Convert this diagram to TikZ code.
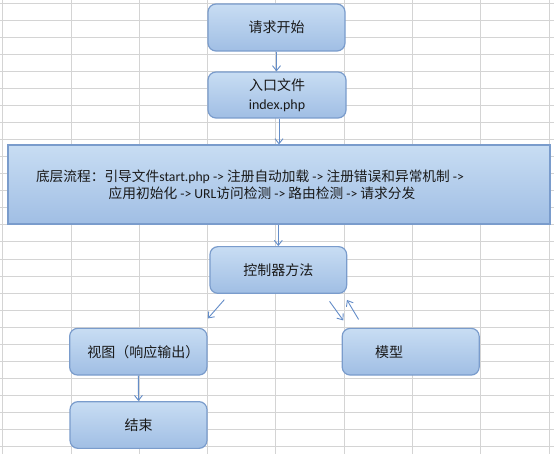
\documentclass[tikz,border=0pt]{standalone}
\usepackage{fontspec}
\setmainfont{Carlito}
\newfontfamily\cjk{Noto Sans CJK SC}
\usetikzlibrary{arrows.meta,calc}
\definecolor{gridc}{RGB}{212,212,212}
\definecolor{boxtop}{RGB}{200,221,243}
\definecolor{boxbot}{RGB}{160,190,228}
\definecolor{boxline}{RGB}{122,156,204}
\definecolor{arrowc}{RGB}{100,141,200}
\definecolor{txt}{RGB}{25,25,25}
\tikzset{
  flowbox/.style={draw=boxline, line width=1.2pt, top color=boxtop, bottom color=boxbot,
    rounded corners=8pt, inner sep=0pt, text=txt, align=center,
    font=\fontsize{14}{19}\selectfont},
  bigbox/.style={draw=boxline, line width=1.2pt, top color=boxtop, bottom color=boxbot,
    inner sep=0pt, text=txt, align=center, font=\fontsize{13.7}{17}\selectfont},
  conn/.style={draw=arrowc, line width=0.9pt, -{Straight Barb[length=5pt,width=8pt]}},
}
\begin{document}
\begin{tikzpicture}[x=1pt,y=-1pt]
\useasboundingbox (0,0) rectangle (554,454);
\fill[white] (0,0) rectangle (554,454);
% spreadsheet grid
\foreach \i in {0,...,8} {
  \draw[gridc, line width=1pt] ({2.7+68.3*\i},0) -- ({2.7+68.3*\i},454);
}
\foreach \j in {0,...,26} {
  \draw[gridc, line width=1pt] (0,{3.3+17.05*\j}) -- (554,{3.3+17.05*\j});
}
% nodes
\node[flowbox, minimum width=137pt, minimum height=47pt] (start) at (276.5,27.5) {\cjk 请求开始};
\node[flowbox, minimum width=138pt, minimum height=46pt] (entry) at (277,95) {\cjk 入口文件\\index.php};
\node[bigbox, minimum width=542pt, minimum height=79pt] (base) at (279,184.5)
  {{\cjk 底层流程：引导文件}start.php -> {\cjk 注册自动加载} -> {\cjk 注册错误和异常机制} ->\hspace*{58pt}\\
   {\cjk 应用初始化} -> URL{\cjk 访问检测} -> {\cjk 路由检测} -> {\cjk 请求分发}\hspace*{34pt}};
\node[flowbox, minimum width=136.7pt, minimum height=46.7pt] (ctrl) at (278.3,270) {\cjk 控制器方法};
\node[flowbox, minimum width=137pt, minimum height=46.7pt] (model) at (410.7,351.7) {\cjk 模型\hspace*{43pt}};
\node[flowbox, minimum width=137.3pt, minimum height=46.7pt] (view) at (138.3,351.7) {\hspace*{10pt}\cjk 视图（响应输出）};
\node[flowbox, minimum width=137pt, minimum height=46.7pt] (end) at (138.5,425) {\cjk 结束};
% connectors
\draw[conn] (start.south) -- (entry.north -| start.south);
\draw[conn] (entry.south -| base.north) -- (base.north);
\draw[conn] (base.south -| ctrl.north) -- (ctrl.north);
\draw[conn] ($(ctrl.south west)+(15,5.7)$) -- ($(view.north east)+(0.3,-9.3)$);
\draw[conn] ($(ctrl.south east)+(-17.7,7.4)$) -- ($(model.north west)+(1.7,-7.3)$);
\draw[conn] ($(model.north west)+(17,-8.3)$) -- ($(ctrl.south east)+(-0.3,6)$);
\draw[conn] (view.south) -- (end.north);
\end{tikzpicture}
\end{document}
